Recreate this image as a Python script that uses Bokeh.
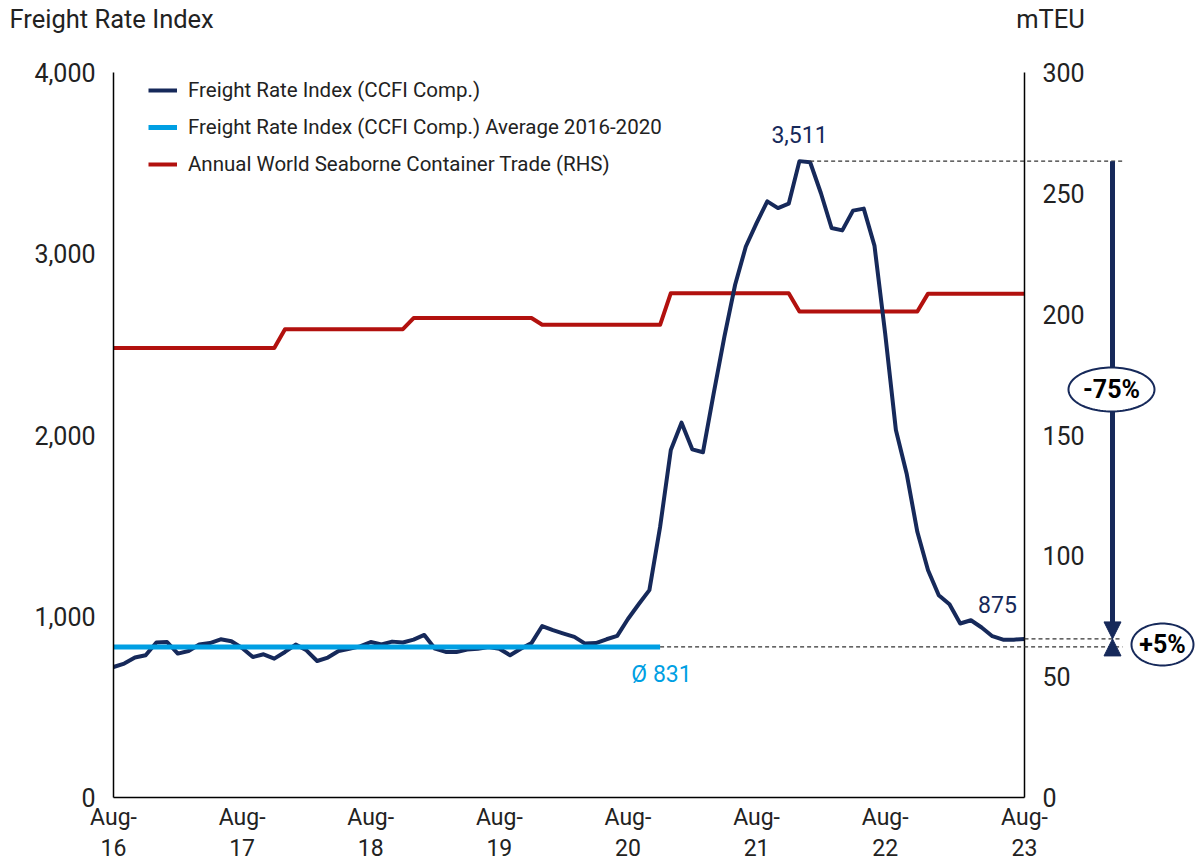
import numpy as np
from bokeh.plotting import figure
from bokeh.models import (Range1d, LinearAxis, FixedTicker, Legend, LegendItem, Label,
                          Arrow, NormalHead, PolyAnnotation, NumeralTickFormatter)
from bokeh.embed import file_html
from bokeh.resources import INLINE

# ---------------- data ----------------
tick_labels = ["Aug-16", "Aug-17", "Aug-18", "Aug-19", "Aug-20", "Aug-21", "Aug-22", "Aug-23"]
tick_positions = [0, 12, 24, 36, 48, 60, 72, 85]

freight = [720, 739, 772, 785, 855, 858, 794, 808, 844, 852,
           873, 862, 825, 775, 790, 766, 803, 844, 812, 753,
           772, 808, 821, 834, 858, 844, 860, 855, 871, 897,
           821, 803, 803, 816, 821, 830, 821, 785, 821, 852,
           946, 923, 904, 886, 849, 852, 873, 892, 985, 1066,
           1144, 1493, 1917, 2068, 1921, 1905, 2230, 2543, 2829, 3040,
           3169, 3289, 3252, 3276, 3511, 3505, 3335, 3142, 3129, 3238,
           3249, 3045, 2560, 2028, 1788, 1466, 1254, 1116, 1066, 960,
           978, 938, 890, 871, 871, 875]

avg_value = 831
avg_end = 51

trade_annual = [186.0, 193.8, 198.4, 195.6, 208.7, 201.1, 208.5]
trade_period_len = [16, 12, 12, 12, 12, 12, 10]

peak_value = 3511
last_value = 875
change_labels = ["-75%", "+5%"]

left_ticks = [0, 1000, 2000, 3000, 4000]
right_ticks = [0, 50, 100, 150, 200, 250, 300]

series_names = ["Freight Rate Index (CCFI Comp.)",
                "Freight Rate Index (CCFI Comp.) Average 2016-2020",
                "Annual World Seaborne Container Trade (RHS)"]

# ---------------- derived ----------------
x = list(range(len(freight)))
trade_monthly = []
for v, n in zip(trade_annual, trade_period_len):
    trade_monthly += [v] * n

NAVY = "#16295A"
CYAN = "#009FE3"
RED = "#B2110E"
TXT = "#222222"
FONT = "Roboto"

# layout (canvas pixels); the frame covers the whole canvas, axes sit at fixed locations
W, H = 1196, 866
FL, FR, FT, FB = 113, 1024, 72, 797
XMAX = 85
YMAX = 4000
RMAX = 300
ppx = (FR - FL) / XMAX
ppy = (FB - FT) / YMAX
ppr = (FB - FT) / RMAX


def px2x(sx):
    return (sx - FL) / ppx


def px2y(sy):
    return (FB - sy) / ppy


p = figure(width=W, height=H,
           x_range=Range1d(px2x(0), px2x(W)), y_range=Range1d(px2y(H), px2y(0)),
           output_backend="svg", toolbar_location=None,
           min_border=0, min_border_left=0, min_border_right=0, min_border_top=0, min_border_bottom=0)
p.outline_line_color = None
p.xgrid.visible = False
p.ygrid.visible = False
p.background_fill_color = "white"

p.extra_y_ranges = {"teu": Range1d(-(H - FB) / ppr, FB / ppr)}


def style_axis(ax, standoff, size="25px"):
    ax.axis_line_color = "black"
    ax.axis_line_width = 1.5
    ax.major_tick_line_color = None
    ax.minor_tick_line_color = None
    ax.major_tick_out = 0
    ax.major_tick_in = 0
    ax.minor_tick_out = 0
    ax.minor_tick_in = 0
    ax.major_label_text_font = FONT
    ax.major_label_text_font_size = size
    ax.major_label_text_color = TXT
    ax.major_label_standoff = standoff


yax = p.yaxis[0]
style_axis(yax, 18)
yax.ticker = FixedTicker(ticks=left_ticks)
yax.formatter = NumeralTickFormatter(format="0,0")
yax.bounds = (0, YMAX)
yax.fixed_location = 0

xax = p.xaxis[0]
style_axis(xax, 6, "23px")
xax.ticker = FixedTicker(ticks=tick_positions)
xax.major_label_overrides = {pos: lab.replace("-", "-\n") for pos, lab in zip(tick_positions, tick_labels)}
xax.major_label_text_line_height = 1.15
xax.bounds = (0, XMAX)
xax.fixed_location = 0

rax = LinearAxis(y_range_name="teu", ticker=FixedTicker(ticks=right_ticks))
style_axis(rax, 18)
rax.bounds = (0, RMAX)
rax.fixed_location = XMAX
p.add_layout(rax, "right")

# series
r_red = p.line(x, trade_monthly, y_range_name="teu", line_color=RED, line_width=4, line_join="round")
r_navy = p.line(x, freight, line_color=NAVY, line_width=4, line_join="round")
r_cyan = p.line([0, avg_end], [avg_value, avg_value], line_color=CYAN, line_width=5)

# legend (location = bottom-left of the legend box, from the frame's bottom-left)
legend = Legend(items=[LegendItem(label=series_names[0], renderers=[r_navy]),
                       LegendItem(label=series_names[1], renderers=[r_cyan]),
                       LegendItem(label=series_names[2], renderers=[r_red])],
                location=(148, H - 176), orientation="vertical",
                glyph_width=29, glyph_height=24, label_height=24, spacing=13,
                padding=0, margin=0, label_standoff=11,
                label_text_font=FONT, label_text_font_size="20.5px", label_text_color=TXT,
                border_line_color=None, background_fill_alpha=0)
p.add_layout(legend, "center")

# reference lines
arrow_x = px2x(1112)
dash_end = px2x(1122)
peak_idx = freight.index(max(freight))
DASH = "#333333"
for xs0, yv in [(peak_idx + 1, peak_value), (x[-1], last_value), (avg_end, avg_value)]:
    p.add_layout(Arrow(end=None, x_start=xs0, y_start=yv, x_end=dash_end, y_end=yv,
                       line_color=DASH, line_width=1.2, line_dash="4 3"))

# change arrows
p.add_layout(Arrow(end=NormalHead(size=17, fill_color=NAVY, line_color=NAVY, line_width=1),
                   x_start=arrow_x, y_start=peak_value, x_end=arrow_x, y_end=last_value,
                   line_color=NAVY, line_width=5))
p.add_layout(Arrow(end=NormalHead(size=17, fill_color=NAVY, line_color=NAVY, line_width=1),
                   x_start=arrow_x, y_start=last_value - 17 / ppy, x_end=arrow_x, y_end=last_value,
                   line_alpha=0, line_width=1))

# ellipses with change labels
t = np.linspace(0, 2 * np.pi, 97)


def ellipse(cx_px, cy_px, rx_px, ry_px):
    cx, cy = px2x(cx_px), px2y(cy_px)
    return list(cx + rx_px / ppx * np.cos(t)), list(cy + ry_px / ppy * np.sin(t))


for (cxp, cyp, rxp, ryp), lab in zip([(1111, 389, 43, 22), (1162, 644, 31, 21)], change_labels):
    xs, ys = ellipse(cxp, cyp, rxp, ryp)
    p.add_layout(PolyAnnotation(xs=xs, ys=ys, fill_color="white", fill_alpha=1,
                                line_color=NAVY, line_alpha=1, line_width=2))
    p.add_layout(Label(x=px2x(cxp), y=px2y(cyp), text=lab, text_align="center", text_baseline="middle",
                       text_font=FONT, text_font_style="bold", text_font_size="25px", text_color="black"))

# value labels
p.add_layout(Label(x=px2x(799), y=px2y(134), text=f"{peak_value:,}", text_align="center",
                   text_baseline="middle", text_font=FONT, text_font_size="23px", text_color=NAVY))
p.add_layout(Label(x=px2x(997), y=px2y(604), text=f"{last_value:,}", text_align="center",
                   text_baseline="middle", text_font=FONT, text_font_size="23px", text_color=NAVY))
p.add_layout(Label(x=px2x(661), y=px2y(674), text=f"Ø {avg_value}", text_align="center",
                   text_baseline="middle", text_font=FONT, text_font_size="23px", text_color=CYAN))

# axis titles
p.add_layout(Label(x=px2x(9), y=px2y(18), text="Freight Rate Index", text_align="left",
                   text_baseline="middle", text_font=FONT, text_font_size="25.5px", text_color=TXT))
p.add_layout(Label(x=px2x(1050), y=px2y(18), text="mTEU", text_align="center",
                   text_baseline="middle", text_font=FONT, text_font_size="25.5px", text_color=TXT))

open("out.html", "w").write(file_html(p, INLINE))
